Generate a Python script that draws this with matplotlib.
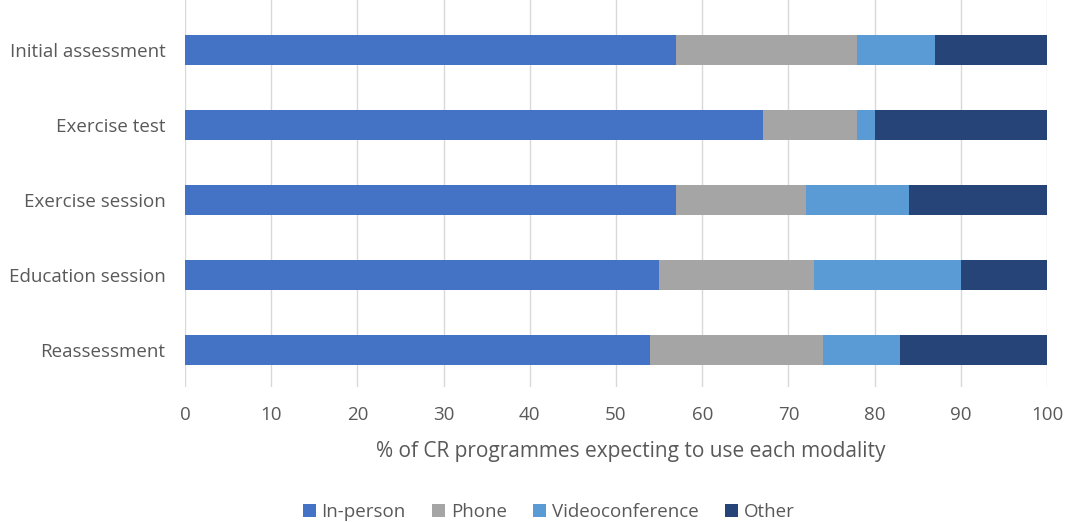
import matplotlib.pyplot as plt
import numpy as np

# data (percent of CR programmes)
categories = ["Initial assessment", "Exercise test", "Exercise session",
              "Education session", "Reassessment"]
in_person = [57, 67, 57, 55, 54]
phone = [21, 11, 15, 18, 20]
video = [9, 2, 12, 17, 9]
other = [13, 20, 16, 10, 17]

series = {
    "In-person": (in_person, "#4472C4"),
    "Phone": (phone, "#A5A5A5"),
    "Videoconference": (video, "#5B9BD5"),
    "Other": (other, "#264478"),
}

plt.rcParams['font.family'] = ['Open Sans', 'DejaVu Sans']
text_col = "#595959"

fig = plt.figure(figsize=(10.67, 5.22), dpi=100)
ax = fig.add_axes([185 / 1067, 1 - 387 / 522, 862 / 1067, 387 / 522])

y = np.arange(len(categories))
left = np.zeros(len(categories))
for name, (vals, col) in series.items():
    ax.barh(y, vals, left=left, height=0.4, color=col, label=name, zorder=3)
    left += np.array(vals)

ax.set_xlim(0, 100)
ax.set_ylim(4.5, -0.5 - 12.5 / 75)
ax.set_xticks(range(0, 101, 10))
ax.set_yticks(y)
ax.set_yticklabels(categories)
ax.grid(axis="x", color="#D9D9D9", linewidth=1, zorder=0)
for s in ax.spines.values():
    s.set_visible(False)
ax.tick_params(axis="both", length=0, labelsize=13.5, colors=text_col)
ax.tick_params(axis="x", pad=14)
ax.tick_params(axis="y", pad=14)

ax.set_xlabel("% of CR programmes expecting to use each modality",
              fontsize=15, color=text_col)
ax.xaxis.set_label_coords((631 - 185) / 862, -0.14)
ax.xaxis.label.set_va("top")

fig.legend(loc="lower center", bbox_to_anchor=(0.514, -0.03), ncol=4,
           frameon=False, fontsize=13.5, labelcolor=text_col,
           handlelength=0.7, handleheight=0.7, handletextpad=0.3,
           columnspacing=1.4)

fig.savefig("out.png", dpi=100)
